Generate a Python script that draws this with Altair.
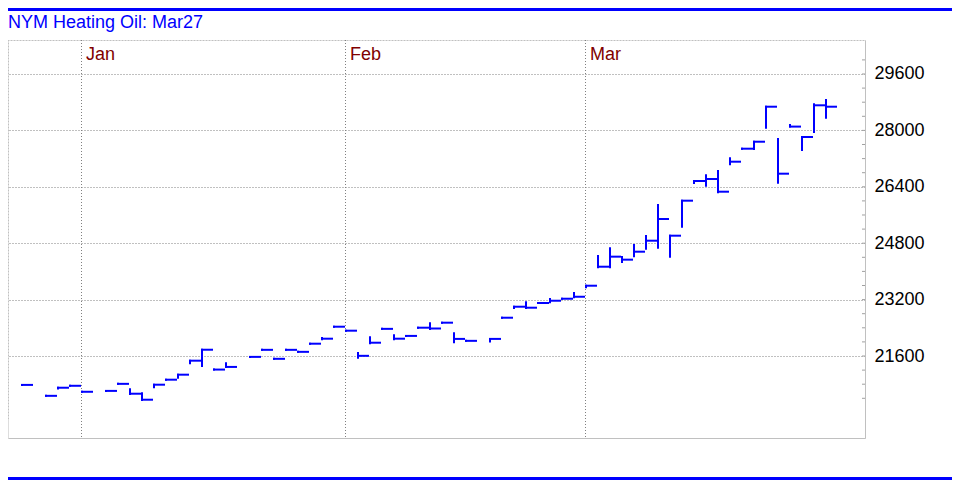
import altair as alt
import pandas as pd

# ---- data ----
title_text = "NYM Heating Oil: Mar27"

# trading-day slot index (gaps = holidays)
slots = [0, 2, 3, 4, 5, 7, 8, 9, 10, 11, 12, 13, 14, 15, 16, 17, 19, 20, 21, 22,
         23, 24, 25, 26, 27, 28, 29, 30, 31, 32, 33, 34, 35, 36, 37, 39, 40, 41, 42, 43,
         44, 45, 46, 47, 48, 49, 50, 51, 52, 53, 54, 55, 56, 57, 58, 59, 60, 61, 62, 63,
         64, 65, 66, 67]
highs = [20780, 20470, 20700, 20755, 20585, 20610, 20810, 20655, 20540, 20786, 20928, 21070, 21467, 21778, 21215, 21392, 21575, 21775, 21520, 21775,
         21718, 21949, 22110, 22431, 22318, 21685, 22130, 22370, 22187, 22170, 22403, 22530, 22545, 22243, 22030, 22085, 22686, 22998, 23128, 23103,
         23217, 23225, 23387, 23594, 24437, 24655, 24409, 24749, 25004, 25884, 25013, 26006, 26565, 26726, 26848, 27208, 27481, 27679, 28672, 27756,
         28150, 27813, 28740, 28862]
lows = [20780, 20470, 20680, 20755, 20585, 20610, 20810, 20522, 20350, 20711, 20928, 20985, 21392, 21316, 21215, 21290, 21575, 21775, 21520, 21775,
        21718, 21949, 22075, 22431, 22318, 21552, 21960, 22370, 22073, 22170, 22403, 22366, 22545, 21988, 22030, 22010, 22686, 22960, 22960, 23103,
        23128, 23225, 23265, 23548, 24115, 24115, 24267, 24428, 24644, 24672, 24418, 25268, 26508, 26431, 26244, 27038, 27481, 27472, 28077, 26516,
        28108, 27444, 27955, 28360]
closes = [20780, 20470, 20700, 20755, 20585, 20610, 20810, 20530, 20360, 20786, 20928, 21070, 21467, 21778, 21215, 21290, 21575, 21775, 21520, 21775,
          21718, 21949, 22091, 22431, 22318, 21605, 21977, 22370, 22091, 22170, 22403, 22380, 22545, 22085, 22030, 22085, 22686, 22998, 22970, 23103,
          23168, 23225, 23281, 23594, 24133, 24418, 24333, 24559, 24871, 25486, 25013, 26006, 26565, 26621, 26261, 27112, 27481, 27679, 28672, 26772,
          28108, 27813, 28712, 28672]

month_names = ["Jan", "Feb", "Mar"]
month_slots = [5, 27, 47]

y_labels = [21600, 23200, 24800, 26400, 28000, 29600]
y_minor = [20400, 20800, 21200, 21600, 22000, 22400, 22800, 23200, 23600, 24000,
           24400, 24800, 25200, 25600, 26000, 26400, 26800, 27200, 27600, 28000,
           28400, 28800, 29200, 29600, 30000]

# ---- layout / style ----
PW, PH = 857, 398
BLUE = "#0000FF"
FONT = "Liberation Sans"

bars = pd.DataFrame({"slot": slots, "high": highs, "low": lows, "close": closes})
months = pd.DataFrame({"slot": month_slots, "month": month_names})
minor = pd.DataFrame({"v": y_minor})
one = pd.DataFrame({"a": [0]})
title_df = pd.DataFrame({"t": [title_text]})

xscale = alt.Scale(domain=[-14 / 12, (PW - 14) / 12], nice=False, zero=False)
yscale = alt.Scale(domain=[19273.8, 30564.5], nice=False, zero=False)

xaxis = alt.Axis(orient="bottom", domain=True, domainColor="#C0C0C0", domainWidth=1,
                 labels=False, ticks=False, grid=False, title=None)
yaxis = alt.Axis(orient="right", values=y_labels, format="d", labelFontSize=18,
                 labelFont=FONT, labelColor="#000000", labelPadding=9, ticks=False,
                 tickSize=0, domain=True, domainColor="#C0C0C0", domainWidth=1,
                 grid=True, gridDash=[1, 2], gridColor="#808080", gridWidth=1,
                 title=None, labelOverlap=False, labelBound=False, labelFlush=False)

base = alt.Chart(bars)

vert = base.mark_rule(color=BLUE, strokeWidth=2, strokeCap="square").encode(
    x=alt.X("slot:Q", scale=xscale, axis=xaxis),
    y=alt.Y("high:Q", scale=yscale, axis=yaxis),
    y2="low:Q",
)

close_tick = base.transform_calculate(nxt="datum.slot + 1").mark_rule(
    color=BLUE, strokeWidth=2, xOffset=-1, x2Offset=-1
).encode(
    x="slot:Q", x2="nxt:Q", y="close:Q"
)

month_grid = alt.Chart(months).mark_rule(
    color="#808080", strokeWidth=1, strokeDash=[1, 2], xOffset=-0.5
).encode(x="slot:Q", y=alt.value(0), y2=alt.value(397))

month_text = alt.Chart(months).mark_text(
    align="left", baseline="alphabetic", dx=4, fontSize=18, font=FONT, color="#800000"
).encode(x="slot:Q", y=alt.value(20), text="month:N")

minor_ticks = alt.Chart(minor).mark_rule(color="#A0A0A0", strokeWidth=1).encode(
    y="v:Q", x=alt.value(PW - 3), x2=alt.value(PW)
)

title_mark = alt.Chart(title_df).mark_text(
    align="left", baseline="alphabetic", fontSize=18, font=FONT, color=BLUE
).encode(x=alt.value(0), y=alt.value(-12.5), text="t:N")

top_border = alt.Chart(one).mark_rule(color="#C0C0C0", strokeWidth=1, strokeDash=[1, 2]).encode(
    x=alt.value(0), x2=alt.value(PW), y=alt.value(0.5)
)
left_border = alt.Chart(one).mark_rule(color="#C0C0C0", strokeWidth=1, strokeDash=[1, 2]).encode(
    x=alt.value(0.5), y=alt.value(0), y2=alt.value(381)
)
top_blue = alt.Chart(one).mark_rule(color=BLUE, strokeWidth=3).encode(
    x=alt.value(0), x2=alt.value(944), y=alt.value(-30.5)
)
bottom_blue = alt.Chart(one).mark_rule(color=BLUE, strokeWidth=3).encode(
    x=alt.value(0), x2=alt.value(944), y=alt.value(438.5)
)

chart = alt.layer(
    top_border, left_border, month_grid, minor_ticks, month_text, title_mark,
    vert, close_tick, top_blue, bottom_blue
).properties(
    width=PW, height=PH,
    autosize=alt.AutoSizeParams(type="none"),
    padding={"left": 0, "top": 32, "right": 87, "bottom": 42},
).configure_view(stroke=None).configure(background="#FFFFFF")

chart.save("out.html", embed_options={"renderer": "svg", "actions": False})
